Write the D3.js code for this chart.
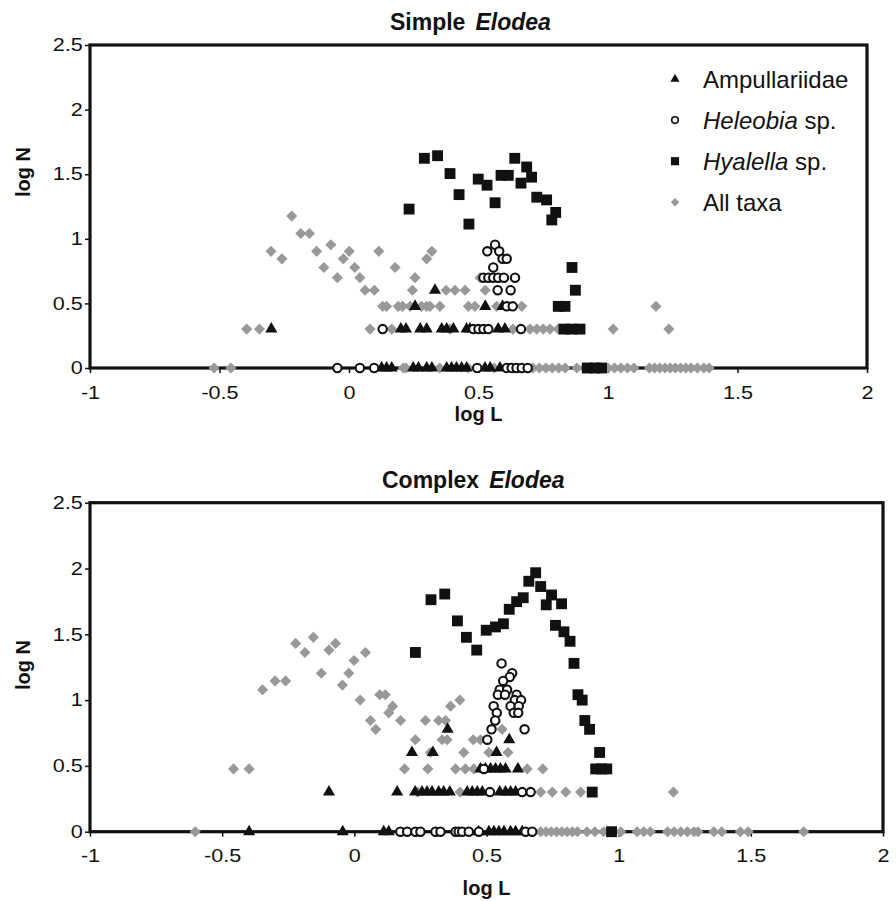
<!DOCTYPE html>
<html lang="en">
<head>
<meta charset="UTF-8">
<title>Simple and Complex Elodea</title>
<script src="https://d3js.org/d3.v7.min.js"></script>
<style>
    body { margin: 0; background: #fff; }
    svg { font-family: Arial, "Liberation Sans", sans-serif; }
    .tick text { font-size: 18px; fill: #111; }
    .tick line { stroke: #111; stroke-width: 1.5px; }
    .frame { fill: none; stroke: #111; stroke-width: 3.2px; }
    .title { font-size: 23px; font-weight: bold; fill: #111; }
    .axis-label { font-size: 20px; font-weight: bold; fill: #111; }
    .legend text { font-size: 24px; fill: #111; }
</style>
</head>
<body>
<svg width="896" height="901"></svg>
<script>
// axis ticks
const xTicks = [-1, -0.5, 0, 0.5, 1, 1.5, 2];
const yTicks = [0, 0.5, 1, 1.5, 2, 2.5];

// legend / series names
const seriesNames = ["Ampullariidae", "Heleobia sp.", "Hyalella sp.", "All taxa"];

// ---- Simple Elodea : [log L, log N]
const simpleAmpullariidae = [
    [-0.30,0.301],[0.20,0.301],[0.22,0.301],[0.275,0.301],[0.30,0.301],[0.358,0.301],[0.377,0.301],
    [0.403,0.301],[0.454,0.301],[0.467,0.301],[0.576,0.301],[0.602,0.301],
    [0.332,0.602],[0.255,0.477],[0.526,0.477],[0.593,0.477],
    [0.126,0],[0.145,0],[0.165,0],[0.248,0],[0.268,0],[0.30,0],[0.32,0],[0.377,0],[0.396,0],[0.415,0],
    [0.435,0],[0.454,0],[0.525,0],[0.545,0],[0.583,0]
];
const simpleHeleobia = [
    [0.564,0.954],[0.534,0.903],[0.58,0.903],[0.593,0.845],[0.609,0.845],[0.557,0.778],
    [0.519,0.699],[0.538,0.699],[0.557,0.699],[0.576,0.699],[0.598,0.699],[0.641,0.699],
    [0.574,0.602],[0.624,0.602],[0.609,0.477],[0.632,0.477],
    [0.13,0.301],[0.48,0.301],[0.50,0.301],[0.519,0.301],[0.538,0.301],[0.664,0.301],
    [-0.045,0],[0.042,0],[0.097,0],[0.495,0],[0.609,0],[0.628,0],[0.647,0],[0.667,0],[0.69,0]
];
const simpleHyalella = [
    [0.232,1.230],[0.291,1.623],[0.342,1.643],[0.39,1.505],[0.425,1.342],[0.463,1.114],[0.499,1.462],
    [0.533,1.415],[0.564,1.279],[0.587,1.491],[0.615,1.491],[0.64,1.623],[0.664,1.431],[0.686,1.556],
    [0.705,1.477],[0.725,1.322],[0.763,1.301],[0.783,1.146],[0.798,1.204],[0.861,0.778],[0.874,0.602],
    [0.808,0.477],[0.834,0.477],[0.83,0.301],[0.86,0.301],[0.892,0.301],[0.92,0],[0.95,0],[0.975,0]
];
const simpleAllTaxa = [
    [-0.521,0],[-0.456,0],[0.21,0],[0.22,0],[0.35,0],[0.46,0],[0.56,0],[0.71,0],[0.735,0],[0.76,0],
    [0.785,0],[0.81,0],[0.835,0],[0.88,0],[1.0,0],[1.025,0],[1.05,0],[1.075,0],[1.10,0],[1.16,0],
    [1.18,0],[1.20,0],[1.22,0],[1.24,0],[1.26,0],[1.28,0],[1.30,0],[1.32,0],[1.345,0],[1.37,0],[1.39,0],
    [-0.395,0.301],[-0.346,0.301],[0.081,0.301],[0.165,0.301],[0.39,0.301],[0.633,0.301],[0.699,0.301],
    [0.725,0.301],[0.75,0.301],[0.776,0.301],[0.808,0.301],[1.02,0.301],[1.235,0.301],
    [0.13,0.477],[0.145,0.477],[0.19,0.477],[0.207,0.477],[0.236,0.477],[0.28,0.477],[0.30,0.477],
    [0.313,0.477],[0.351,0.477],[0.461,0.477],[0.486,0.477],[0.57,0.477],[0.667,0.477],[1.185,0.477],
    [0.062,0.602],[0.098,0.602],[0.245,0.602],[0.375,0.602],[0.409,0.602],[0.448,0.602],[0.526,0.602],
    [-0.045,0.699],[0.042,0.699],[0.255,0.699],[0.506,0.699],
    [-0.097,0.778],[0.022,0.778],[0.178,0.778],
    [-0.259,0.845],[-0.022,0.845],[0.30,0.845],
    [-0.301,0.903],[-0.125,0.903],[0.001,0.903],[0.115,0.903],[0.32,0.903],
    [-0.07,0.954],[-0.186,1.041],[-0.153,1.041],[-0.221,1.176]
];

// ---- Complex Elodea : [log L, log N]
const complexAmpullariidae = [
    [-0.398,0],[-0.044,0],[0.111,0],[0.13,0],[0.47,0],[0.509,0],[0.528,0],[0.547,0],[0.566,0],
    [0.591,0],[0.61,0],[0.635,0],
    [-0.096,0.301],[0.162,0.301],[0.23,0.301],[0.256,0.301],[0.275,0.301],[0.294,0.301],[0.319,0.301],
    [0.338,0.301],[0.361,0.301],[0.427,0.301],[0.446,0.301],[0.465,0.301],[0.484,0.301],[0.55,0.301],
    [0.572,0.301],[0.591,0.301],[0.61,0.301],
    [0.477,0.477],[0.496,0.477],[0.515,0.477],[0.534,0.477],[0.553,0.477],[0.572,0.477],[0.619,0.477],
    [0.218,0.602],[0.297,0.602],[0.538,0.602],
    [0.586,0.699],[0.353,0.778]
];
const complexHeleobia = [
    [0.557,1.279],[0.597,1.204],[0.588,1.176],[0.563,1.146],[0.55,1.079],[0.578,1.079],
    [0.543,1.041],[0.57,1.041],[0.614,1.041],[0.607,1.0],[0.631,1.0],
    [0.527,0.954],[0.591,0.954],[0.622,0.954],[0.539,0.903],[0.603,0.903],[0.62,0.903],
    [0.533,0.845],[0.519,0.778],[0.644,0.778],[0.503,0.699],[0.49,0.477],
    [0.513,0.301],[0.635,0.301],[0.667,0.301],
    [0.174,0],[0.2,0],[0.231,0],[0.25,0],[0.307,0],[0.326,0],[0.383,0],[0.395,0],[0.408,0],
    [0.433,0],[0.471,0],[0.648,0],[0.673,0]
];
const complexHyalella = [
    [0.231,1.362],[0.29,1.763],[0.342,1.806],[0.39,1.602],[0.424,1.477],[0.463,1.38],[0.499,1.531],
    [0.534,1.556],[0.564,1.58],[0.586,1.69],[0.614,1.748],[0.639,1.778],[0.66,1.903],[0.686,1.968],
    [0.705,1.863],[0.726,1.724],[0.746,1.799],[0.784,1.732],[0.761,1.568],[0.793,1.519],[0.816,1.447],
    [0.831,1.279],[0.846,1.041],[0.862,1.0],[0.872,0.845],[0.89,0.778],[0.928,0.602],
    [0.913,0.477],[0.935,0.477],[0.955,0.477],[0.90,0.301],[0.973,0]
];
const complexAllTaxa = [
    [-0.602,0],[0.705,0],[0.725,0],[0.745,0],[0.765,0],[0.785,0],[0.805,0],[0.825,0],[0.844,0],
    [0.88,0],[0.91,0],[0.943,0],[1.008,0],[1.07,0],[1.095,0],[1.12,0],[1.185,0],[1.21,0],[1.235,0],
    [1.26,0],[1.285,0],[1.30,0],[1.36,0],[1.39,0],[1.46,0],[1.49,0],[1.70,0],
    [0.24,0.301],[0.40,0.301],[0.705,0.301],[0.749,0.301],[0.80,0.301],[0.856,0.301],[1.207,0.301],
    [-0.457,0.477],[-0.398,0.477],[0.19,0.477],[0.278,0.477],[0.383,0.477],[0.42,0.477],[0.452,0.477],
    [0.654,0.477],[0.713,0.477],
    [0.288,0.602],[0.414,0.602],[0.509,0.602],[0.581,0.602],
    [0.231,0.699],[0.332,0.699],[0.351,0.699],[0.45,0.699],[0.477,0.699],
    [0.081,0.778],[0.559,0.778],
    [0.061,0.845],[0.175,0.845],[0.269,0.845],[0.319,0.845],[0.345,0.845],
    [0.13,0.903],[0.145,0.954],[0.364,0.954],
    [0.022,1.0],[0.399,1.0],[0.096,1.041],[0.117,1.041],
    [-0.347,1.079],[-0.045,1.114],[-0.30,1.146],[-0.26,1.146],
    [-0.125,1.204],[-0.021,1.204],[-0.001,1.301],[-0.187,1.362],[0.042,1.362],[-0.096,1.38],
    [-0.222,1.431],[-0.071,1.431],[-0.155,1.477]
];

const dark = "#111111";
const grey = "#999999";

const svg = d3.select("svg");

// square turned 45 degrees (d3's own diamond is too narrow)
const diamond = {
    draw(ctx, size) {
        const r = Math.sqrt(size / 2);
        ctx.moveTo(0, -r);
        ctx.lineTo(r, 0);
        ctx.lineTo(0, r);
        ctx.lineTo(-r, 0);
        ctx.closePath();
    }
};

function drawMarks(g, data, kind, x, y) {
    if (kind === "circle") {
        g.selectAll(null)
            .data(data)
          .enter().append("circle")
            .attr("cx", d => x(d[0]))
            .attr("cy", d => y(d[1]))
            .attr("r", 4.2)
            .attr("fill", "#fff")
            .attr("stroke", dark)
            .attr("stroke-width", 2.1);
        return;
    }
    const sym = d3.symbol()
        .type(kind === "triangle" ? d3.symbolTriangle : kind === "square" ? d3.symbolSquare : diamond)
        .size(kind === "triangle" ? 64 : kind === "square" ? 118 : 62);
    g.selectAll(null)
        .data(data)
      .enter().append("path")
        .attr("d", sym)
        .attr("transform", d => "translate(" + x(d[0]) + "," + y(d[1]) + ")")
        .attr("fill", kind === "diamond" ? grey : dark);
}

function drawChart(c) {
    const x = d3.scaleLinear().domain([-1, 2]).range([c.left, c.right]);
    const y = d3.scaleLinear().domain([0, 2.5]).range([c.bottom, c.top]);
    const g = svg.append("g");

    // tick labels in the source are drawn a little wide
    g.append("g")
        .attr("transform", "translate(" + c.left + ",0)")
        .call(d3.axisLeft(y).tickValues(yTicks).tickSize(5).tickFormat(d => String(d)))
        .call(a => a.select(".domain").remove())
        .call(a => a.selectAll(".tick text").attr("x", -6).attr("transform", "scale(1.2,1)"));

    g.append("g")
        .attr("transform", "translate(0," + c.bottom + ")")
        .call(d3.axisBottom(x).tickValues(xTicks).tickSize(5).tickPadding(13).tickFormat(d => String(d)))
        .call(a => a.select(".domain").remove())
        .call(a => a.selectAll(".tick text").attr("transform", "scale(1.2,1)"));

    g.selectAll(".tick text").attr("font-size", null);

    g.append("rect")
        .attr("class", "frame")
        .attr("x", c.left)
        .attr("y", c.top)
        .attr("width", c.right - c.left)
        .attr("height", c.bottom - c.top);

    // all taxa underneath, then the single taxa
    drawMarks(g, c.all, "diamond", x, y);
    drawMarks(g, c.amp, "triangle", x, y);
    drawMarks(g, c.hel, "circle", x, y);
    drawMarks(g, c.hya, "square", x, y);

    const t = g.append("text")
        .attr("class", "title")
        .attr("x", c.titleX)
        .attr("y", c.titleY)
        .text(c.title);
    t.append("tspan")
        .attr("dx", 10)
        .attr("font-style", "italic")
        .text("Elodea");

    g.append("text")
        .attr("class", "axis-label")
        .attr("text-anchor", "middle")
        .attr("x", (c.left + c.right) / 2)
        .attr("y", c.xLabelY)
        .text("log L");

    g.append("text")
        .attr("class", "axis-label")
        .attr("text-anchor", "middle")
        .attr("transform", "translate(30," + c.yLabelY + ") rotate(-90)")
        .text("log N");

    if (c.legend) {
        const kinds = ["triangle", "circle", "square", "diamond"];
        const lg = g.append("g").attr("class", "legend");
        seriesNames.forEach((name, i) => {
            const ly = 79 + i * 41.1;
            drawMarks(lg, [[0, 0]], kinds[i], () => 675, () => ly);
            const txt = lg.append("text")
                .attr("x", 703)
                .attr("y", ly)
                .attr("dy", "0.36em");
            if (name.endsWith(" sp.")) {
                txt.append("tspan").attr("font-style", "italic").text(name.replace(" sp.", ""));
                txt.append("tspan").text(" sp.");
            } else {
                txt.text(name);
            }
        });
        lg.selectAll("path").attr("transform", function () {
            return d3.select(this).attr("transform") + " scale(0.75)";
        });
        lg.selectAll("circle").attr("r", 3.3).attr("stroke-width", 1.6);
    }
}

drawChart({
    title: "Simple", titleX: 390, titleY: 30,
    left: 90, right: 867, top: 45, bottom: 368,
    xLabelY: 421, yLabelY: 172,
    amp: simpleAmpullariidae, hel: simpleHeleobia, hya: simpleHyalella, all: simpleAllTaxa,
    legend: true
});

drawChart({
    title: "Complex", titleX: 382, titleY: 488,
    left: 90, right: 883, top: 502.7, bottom: 831.7,
    xLabelY: 895, yLabelY: 665,
    amp: complexAmpullariidae, hel: complexHeleobia, hya: complexHyalella, all: complexAllTaxa,
    legend: false
});
</script>
</body>
</html>
